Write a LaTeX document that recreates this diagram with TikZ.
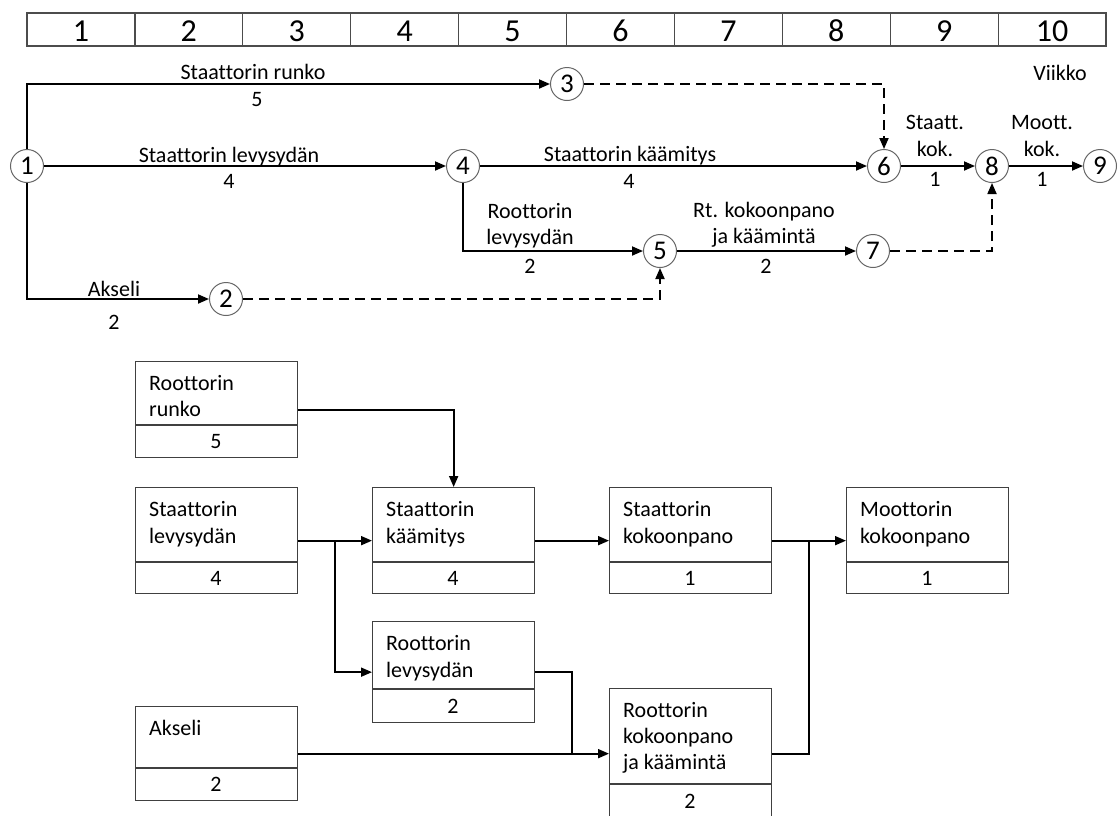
\documentclass[tikz,border=0pt]{standalone}
\usepackage{fontspec}
\setmainfont{Carlito}[Ligatures=NoCommon]
\usetikzlibrary{arrows.meta,calc}

% task box: name, left x, top y, divider y, bottom y, duration
\newcommand\taskbox[6]{%
  \node[taskrect, minimum height={#5-#3}, anchor=north west] (#1) at (#2,#3) {};
  \draw[divline] (#2,#4) -- ({#2+162},#4);
  \node[lbl] (#1-dur) at ({#2+81},{(#4+#5)/2+7.5}) {#6};
}
% one text line inside a task box: name, box left x, baseline y, text
\newcommand\boxline[4]{\node[anchor=base west] (#1) at ({#2+14},#3) {#4};}

\begin{document}
\begin{tikzpicture}[x=1pt,y=-1pt,
  every node/.style={font=\fontsize{22}{26}\selectfont, inner sep=0pt},
  lbl/.style={anchor=base},
  cell/.style={draw=black!70, line width=1.2pt, minimum width=107.9pt, minimum height=33pt},
  evt/.style={circle, draw=black!60, line width=1pt, fill=white, minimum size=33pt,
    font=\fontsize{27}{30}\selectfont},
  link/.style={line width=1.8pt, -{Triangle[length=11pt,width=9pt]}},
  dummy/.style={link, dash pattern=on 10pt off 6pt},
  taskrect/.style={draw=black!75, line width=1.3pt, minimum width=162pt},
  divline/.style={draw=black!75, line width=1.1pt},
  flow/.style={line width=1.8pt, -{Triangle[length=11pt,width=9pt]}},
  plain/.style={line width=1.8pt}
]
\useasboundingbox (0,0) rectangle (1118,815);

% week scale
\foreach \i in {1,...,10}{
  \node[cell] (w\i) at ({27+107.9*(\i-0.5)},29.5) {};
  \node[lbl, font=\fontsize{32}{36}\selectfont] (wl\i) at ({27+107.9*(\i-0.5)},41) {\i};
}
\node[lbl] (viikko) at (1060,80) {Viikko};

% event nodes
\node[evt] (n1) at (27,166) {1};
\node[evt] (n2) at (226,299) {2};
\node[evt] (n3) at (567,84) {3};
\node[evt] (n4) at (463,166) {4};
\node[evt] (n5) at (660,251) {5};
\node[evt] (n6) at (884,166) {6};
\node[evt] (n7) at (873,251) {7};
\node[evt] (n8) at (992,166) {8};
\node[evt] (n9) at (1100,166) {9};

% activities
\draw[link] (n1) |- (n3);
\draw[link] (n1) -- (n4);
\draw[link] (n1) |- (n2);
\draw[link] (n4) -- (n6);
\draw[link] (n4) |- (n5);
\draw[link] (n5) -- (n7);
\draw[link] (n6) -- (n8);
\draw[link] (n8) -- (n9);
\draw[dummy] (n3) -| (n6);
\draw[dummy] (n2) -| (n5);
\draw[dummy] (n7) -| (n8);

% activity labels
\node[lbl] (a13) at (253,79) {Staattorin runko};
\node[lbl] (d13) at (257,106) {5};
\node[lbl] (a14) at (229,162) {Staattorin levysydän};
\node[lbl] (d14) at (229,188) {4};
\node[lbl] (a46) at (630,161) {Staattorin käämitys};
\node[lbl] (d46) at (629,188) {4};
\node[lbl] (a45) at (530,218) {Roottorin};
\node[lbl] (a45b) at (530,244) {levysydän};
\node[lbl] (d45) at (530,273) {2};
\node[lbl] (a57) at (764,217) {Rt. kokoonpano};
\node[lbl] (a57b) at (764,243) {ja käämintä};
\node[lbl] (d57) at (766,273) {2};
\node[lbl] (a12) at (114,296) {Akseli};
\node[lbl] (d12) at (114,329) {2};
\node[lbl] (a68) at (935,129) {Staatt.};
\node[lbl] (a68b) at (935,156) {kok.};
\node[lbl] (d68) at (935,186) {1};
\node[lbl] (a89) at (1042,129) {Moott.};
\node[lbl] (a89b) at (1042,156) {kok.};
\node[lbl] (d89) at (1042,186) {1};

% precedence boxes
\taskbox{rr}{135}{361}{425}{457}{5}
\boxline{rr-1}{135}{390}{Roottorin}
\boxline{rr-2}{135}{416}{runko}

\taskbox{sl}{135}{487}{562}{593}{4}
\boxline{sl-1}{135}{516}{Staattorin}
\boxline{sl-2}{135}{543}{levysydän}

\taskbox{sk}{372}{487}{562}{593}{4}
\boxline{sk-1}{372}{516}{Staattorin}
\boxline{sk-2}{372}{543}{käämitys}

\taskbox{skp}{609}{487}{562}{593}{1}
\boxline{skp-1}{609}{516}{Staattorin}
\boxline{skp-2}{609}{543}{kokoonpano}

\taskbox{mk}{846}{487}{562}{593}{1}
\boxline{mk-1}{846}{516}{Moottorin}
\boxline{mk-2}{846}{543}{kokoonpano}

\taskbox{rl}{372}{621}{689}{722}{2}
\boxline{rl-1}{372}{650}{Roottorin}
\boxline{rl-2}{372}{677}{levysydän}

\taskbox{ak}{135}{706}{768}{800}{2}
\boxline{ak-1}{135}{735}{Akseli}

\taskbox{rk}{609}{688}{784}{818}{2}
\boxline{rk-1}{609}{717}{Roottorin}
\boxline{rk-2}{609}{743}{kokoonpano}
\boxline{rk-3}{609}{769}{ja käämintä}

% junction points
\coordinate (j1) at ($(sl.east)!0.5!(sk.west)$);
\coordinate (j2) at ($(skp.east)!0.5!(mk.west)$);
\coordinate (m3) at ($(rl.east)!0.5!(rk.west)$);
\coordinate (j3) at (m3 |- ak);

% precedence links
\draw[flow] (rr) -| (sk);
\draw[flow] (sl) -- (sk);
\draw[flow] (j1) |- (rl);
\draw[flow] (sk) -- (skp);
\draw[flow] (skp) -- (mk);
\draw[flow] (ak) -- (rk);
\draw[plain] (rl) -| (j3);
\draw[plain] (rk) -| (j2);
\end{tikzpicture}
\end{document}
